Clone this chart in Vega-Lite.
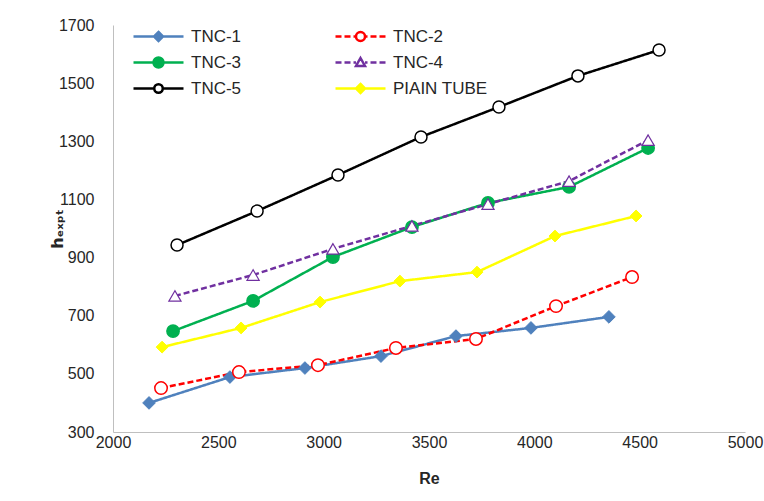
{
  "$schema": "https://vega.github.io/schema/vega-lite/v6.json",
  "width": 632,
  "height": 407,
  "autosize": {"type": "none"},
  "padding": {"left": 113, "top": 25, "right": 19, "bottom": 69},
  "background": "white",
  "config": {
    "view": {"stroke": null},
    "font": "Liberation Sans",
    "legend": {
      "orient": "none",
      "direction": "horizontal",
      "legendX": 37,
      "legendY": 3,
      "columns": 2,
      "columnPadding": 88,
      "rowPadding": 6,
      "padding": 0,
      "symbolSize": 100,
      "symbolStrokeWidth": 2.5,
      "labelOffset": 24,
      "labelFont": "Liberation Sans",
      "labelFontSize": 17,
      "labelColor": "#262626",
      "labelLimit": 300,
      "symbolOpacity": 1
    }
  },
  "resolve": {"legend": {"stroke": "independent", "fill": "independent", "shape": "independent", "strokeDash": "independent", "size": "independent"}},
  "data": {
    "values": [
      {"series": "TNC-1", "Re": 2171, "h": 400},
      {"series": "TNC-1", "Re": 2555, "h": 489},
      {"series": "TNC-1", "Re": 2911, "h": 520},
      {"series": "TNC-1", "Re": 3272, "h": 561},
      {"series": "TNC-1", "Re": 3628, "h": 630},
      {"series": "TNC-1", "Re": 3984, "h": 658},
      {"series": "TNC-1", "Re": 4354, "h": 696},
      {"series": "TNC-2", "Re": 2228, "h": 451},
      {"series": "TNC-2", "Re": 2598, "h": 506},
      {"series": "TNC-2", "Re": 2973, "h": 530},
      {"series": "TNC-2", "Re": 3343, "h": 589},
      {"series": "TNC-2", "Re": 3723, "h": 620},
      {"series": "TNC-2", "Re": 4103, "h": 733},
      {"series": "TNC-2", "Re": 4464, "h": 833},
      {"series": "TNC-3", "Re": 2285, "h": 647},
      {"series": "TNC-3", "Re": 2665, "h": 751},
      {"series": "TNC-3", "Re": 3044, "h": 902},
      {"series": "TNC-3", "Re": 3419, "h": 1005},
      {"series": "TNC-3", "Re": 3780, "h": 1088},
      {"series": "TNC-3", "Re": 4165, "h": 1143},
      {"series": "TNC-3", "Re": 4540, "h": 1277},
      {"series": "TNC-4", "Re": 2294, "h": 768},
      {"series": "TNC-4", "Re": 2665, "h": 840},
      {"series": "TNC-4", "Re": 3044, "h": 930},
      {"series": "TNC-4", "Re": 3419, "h": 1009},
      {"series": "TNC-4", "Re": 3780, "h": 1084},
      {"series": "TNC-4", "Re": 4165, "h": 1163},
      {"series": "TNC-4", "Re": 4540, "h": 1304},
      {"series": "TNC-5", "Re": 2304, "h": 943},
      {"series": "TNC-5", "Re": 2684, "h": 1060},
      {"series": "TNC-5", "Re": 3068, "h": 1184},
      {"series": "TNC-5", "Re": 3462, "h": 1315},
      {"series": "TNC-5", "Re": 3832, "h": 1418},
      {"series": "TNC-5", "Re": 4207, "h": 1525},
      {"series": "TNC-5", "Re": 4592, "h": 1614},
      {"series": "PIAIN TUBE", "Re": 2233, "h": 592},
      {"series": "PIAIN TUBE", "Re": 2608, "h": 658},
      {"series": "PIAIN TUBE", "Re": 2983, "h": 747},
      {"series": "PIAIN TUBE", "Re": 3362, "h": 819},
      {"series": "PIAIN TUBE", "Re": 3728, "h": 850},
      {"series": "PIAIN TUBE", "Re": 4098, "h": 974},
      {"series": "PIAIN TUBE", "Re": 4483, "h": 1043}
    ]
  },
  "encoding": {
    "x": {
      "field": "Re",
      "type": "quantitative",
      "scale": {"domain": [2000, 5000], "nice": false, "zero": false},
      "axis": {
        "title": "Re",
        "values": [2000, 2500, 3000, 3500, 4000, 4500, 5000],
        "format": "d",
        "grid": false,
        "ticks": false,
        "domainColor": "#bfbfbf",
        "domainWidth": 1,
        "labelFont": "Liberation Sans",
        "labelFontSize": 16,
        "labelColor": "#262626",
        "labelPadding": 2,
        "labelFlush": false,
        "titleFont": "Liberation Sans",
        "titleFontSize": 16,
        "titleFontWeight": "bold",
        "titleColor": "#262626",
        "titlePadding": 20
      }
    },
    "y": {
      "field": "h",
      "type": "quantitative",
      "scale": {"domain": [300, 1700], "nice": false, "zero": false},
      "axis": {
        "title": "hₑₓₚₜ",
        "values": [300, 500, 700, 900, 1100, 1300, 1500, 1700],
        "format": "d",
        "grid": false,
        "ticks": false,
        "domainColor": "#bfbfbf",
        "domainWidth": 1,
        "labelFont": "Liberation Sans",
        "labelFontSize": 16,
        "labelColor": "#262626",
        "labelPadding": 19,
        "labelFlush": false,
        "titleFont": "DejaVu Sans",
        "titleFontSize": 16,
        "titleFontWeight": "bold",
        "titleColor": "#262626",
        "titlePadding": -7
      }
    }
  },
  "layer": [
    {
      "mark": {"type": "line", "strokeWidth": 2.5},
      "encoding": {
        "stroke": {
          "field": "series", "type": "nominal",
          "scale": {"domain": ["TNC-1", "TNC-2", "TNC-3", "TNC-4", "TNC-5", "PIAIN TUBE"], "range": ["#4f81bd", "#ff0000", "#00b050", "#7030a0", "#000000", "#ffff00"]},
          "legend": null
        },
        "strokeDash": {
          "field": "series", "type": "nominal",
          "scale": {"domain": ["TNC-1", "TNC-2", "TNC-3", "TNC-4", "TNC-5", "PIAIN TUBE"], "range": [[1, 0], [6, 3], [1, 0], [6, 3], [1, 0], [1, 0]]},
          "legend": null
        }
      }
    },
    {
      "transform": [{"filter": {"field": "series", "oneOf": ["TNC-1", "PIAIN TUBE"]}}],
      "mark": {"type": "point", "shape": "diamond", "filled": true, "opacity": 1, "strokeWidth": 1},
      "encoding": {
        "stroke": {"field": "series", "type": "nominal", "legend": null},
        "fill": {
          "field": "series", "type": "nominal",
          "scale": {"domain": ["TNC-1", "TNC-2", "TNC-3", "TNC-4", "TNC-5", "PIAIN TUBE"], "range": ["#4f81bd", "#ffffff", "#00b050", "#ffffff", "#ffffff", "#ffff00"]},
          "legend": null
        },
        "size": {
          "field": "series", "type": "nominal",
          "scale": {"domain": ["TNC-1", "TNC-2", "TNC-3", "TNC-4", "TNC-5", "PIAIN TUBE"], "range": [160, 140, 190, 121, 140, 121]},
          "legend": null
        }
      }
    },
    {
      "transform": [{"filter": {"field": "series", "oneOf": ["TNC-2", "TNC-3", "TNC-5"]}}],
      "mark": {"type": "point", "shape": "circle", "filled": true, "opacity": 1, "strokeWidth": 1.5},
      "encoding": {
        "stroke": {"field": "series", "type": "nominal", "legend": null},
        "fill": {"field": "series", "type": "nominal", "legend": null},
        "size": {"field": "series", "type": "nominal", "legend": null}
      }
    },
    {
      "transform": [{"filter": {"field": "series", "oneOf": ["TNC-4"]}}],
      "mark": {"type": "point", "shape": "triangle-up", "filled": true, "opacity": 1, "strokeWidth": 1.2},
      "encoding": {
        "stroke": {"field": "series", "type": "nominal", "legend": null},
        "fill": {"field": "series", "type": "nominal", "legend": null},
        "size": {"field": "series", "type": "nominal", "legend": null}
      }
    },
    {
      "transform": [{"filter": "false"}],
      "mark": {"type": "point", "filled": true, "opacity": 1, "strokeWidth": 2.5, "size": 100},
      "encoding": {
        "shape": {
          "field": "series", "type": "nominal",
          "scale": {
            "domain": ["TNC-1", "TNC-2", "TNC-3", "TNC-4", "TNC-5", "PIAIN TUBE"],
            "range": [
              "M-5,0H5M0,-0.9L0.9,0L0,0.9L-0.9,0Z",
              "M-5,0H-3.8M-3.2,0H-2M-1.4,0H-0.9M0.9,0H1.4M2,0H3.2M3.8,0H5M-0.9,0A0.9,0.9,0,1,0,0.9,0A0.9,0.9,0,1,0,-0.9,0Z",
              "M-5,0H5M-1,0A1,1,0,1,0,1,0A1,1,0,1,0,-1,0Z",
              "M-5,0H-3.8M-3.2,0H-2M-1.4,0H-0.9M0.9,0H1.4M2,0H3.2M3.8,0H5M0,-0.9L0.9,0.7L-0.9,0.7Z",
              "M-5,0H-0.85M0.85,0H5M-0.85,0A0.85,0.85,0,1,0,0.85,0A0.85,0.85,0,1,0,-0.85,0Z",
              "M-5,0H5M0,-0.9L0.9,0L0,0.9L-0.9,0Z"
            ]
          },
          "legend": {"title": null}
        },
        "stroke": {"field": "series", "type": "nominal", "legend": {"title": null}},
        "fill": {"field": "series", "type": "nominal", "legend": {"title": null}}
      }
    }
  ]
}
